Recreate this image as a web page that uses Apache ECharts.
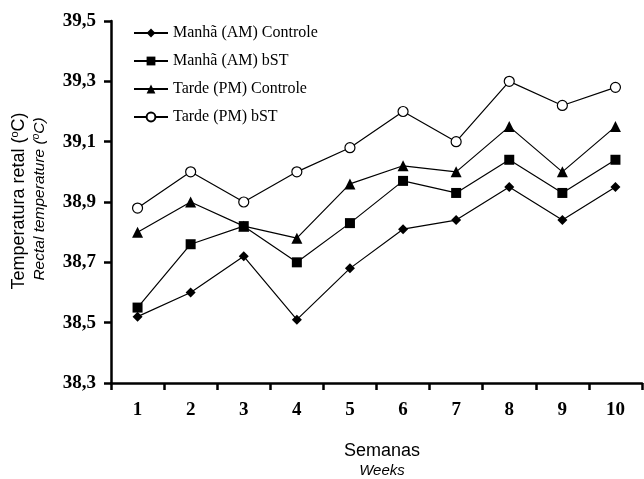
<!DOCTYPE html>
<html>
<head>
<meta charset="utf-8">
<script src="https://cdn.jsdelivr.net/npm/echarts@6/dist/echarts.min.js"></script>
<style>html,body{margin:0;padding:0;background:#fff}#c{width:644px;height:479px}</style>
</head>
<body>
<div id="c"></div>
<script>
const weeks = ['1','2','3','4','5','6','7','8','9','10'];
const seriesNames = ['Manhã (AM) Controle','Manhã (AM) bST','Tarde (PM) Controle','Tarde (PM) bST'];
const amControle = [38.52,38.60,38.72,38.51,38.68,38.81,38.84,38.95,38.84,38.95];
const amBST      = [38.55,38.76,38.82,38.70,38.83,38.97,38.93,39.04,38.93,39.04];
const pmControle = [38.80,38.90,38.82,38.78,38.96,39.02,39.00,39.15,39.00,39.15];
const pmBST      = [38.88,39.00,38.90,39.00,39.08,39.20,39.10,39.30,39.22,39.28];
const yMin = 38.3, yMax = 39.5, yStep = 0.2;

const chart = echarts.init(document.getElementById('c'));
const serif = 'Liberation Serif';
const sans = 'Liberation Sans';
function mk(name, data, symbol, size, fill) {
  return {
    name, type: 'line', data, symbol, symbolSize: size,
    lineStyle: { color: '#000', width: 1.2 },
    itemStyle: { color: fill, borderColor: '#000', borderWidth: fill === '#fff' ? 1.2 : 0 },
    emphasis: { disabled: true }
  };
}
chart.setOption({
  animation: false,
  grid: { left: 111, right: 2, top: 21, bottom: 96, containLabel: false },
  legend: {
    orient: 'vertical', left: 133, top: 25, padding: 0, itemWidth: 34, itemHeight: 11, itemGap: 12,
    textStyle: { fontFamily: serif, fontSize: 16, color: '#000' },
    data: seriesNames
  },
  xAxis: {
    type: 'category', data: weeks, boundaryGap: true,
    axisLine: { lineStyle: { color: '#000', width: 2.5 } },
    axisTick: { show: true, length: 7, lineStyle: { color: '#000', width: 2.5 }, alignWithLabel: false },
    axisLabel: { fontFamily: serif, fontWeight: 'bold', fontSize: 19, color: '#000', margin: 18 },
    splitLine: { show: false }
  },
  yAxis: {
    type: 'value', min: yMin, max: yMax, interval: yStep,
    axisLine: { show: true, lineStyle: { color: '#000', width: 2.5 } },
    axisTick: { show: true, length: 7, lineStyle: { color: '#000', width: 2.5 } },
    axisLabel: { fontFamily: serif, fontWeight: 'bold', fontSize: 19, color: '#000', margin: 15,
      formatter: v => v.toFixed(1).replace('.', ',') },
    splitLine: { show: false }
  },
  graphic: [
    { type: 'text', x: 19, y: 201, rotation: Math.PI / 2,
      style: { text: '{a|Temperatura retal (}{s|o}{a|C)}', align: 'center', verticalAlign: 'middle',
        rich: { a: { fontFamily: sans, fontSize: 18, fill: '#000', lineHeight: 20 },
                s: { fontFamily: sans, fontSize: 11, fill: '#000', verticalAlign: 'top', lineHeight: 20 } } } },
    { type: 'text', x: 40, y: 199, rotation: Math.PI / 2,
      style: { text: '{a|Rectal temperature (}{s|o}{a|C)}', align: 'center', verticalAlign: 'middle',
        rich: { a: { fontFamily: sans, fontStyle: 'italic', fontSize: 15.5, fill: '#000', lineHeight: 18 },
                s: { fontFamily: sans, fontStyle: 'italic', fontSize: 10, fill: '#000', verticalAlign: 'top', lineHeight: 18 } } } },
    { type: 'text', x: 382, y: 451,
      style: { text: 'Semanas', fontFamily: sans, fontSize: 18, fill: '#000', align: 'center', verticalAlign: 'middle' } },
    { type: 'text', x: 382, y: 471,
      style: { text: 'Weeks', fontFamily: sans, fontStyle: 'italic', fontSize: 15, fill: '#000', align: 'center', verticalAlign: 'middle' } }
  ],
  series: [
    mk(seriesNames[0], amControle, 'diamond', 10, '#000'),
    mk(seriesNames[1], amBST, 'rect', 10, '#000'),
    mk(seriesNames[2], pmControle, 'triangle', 11, '#000'),
    mk(seriesNames[3], pmBST, 'circle', 10, '#fff')
  ]
});
</script>
</body>
</html>
